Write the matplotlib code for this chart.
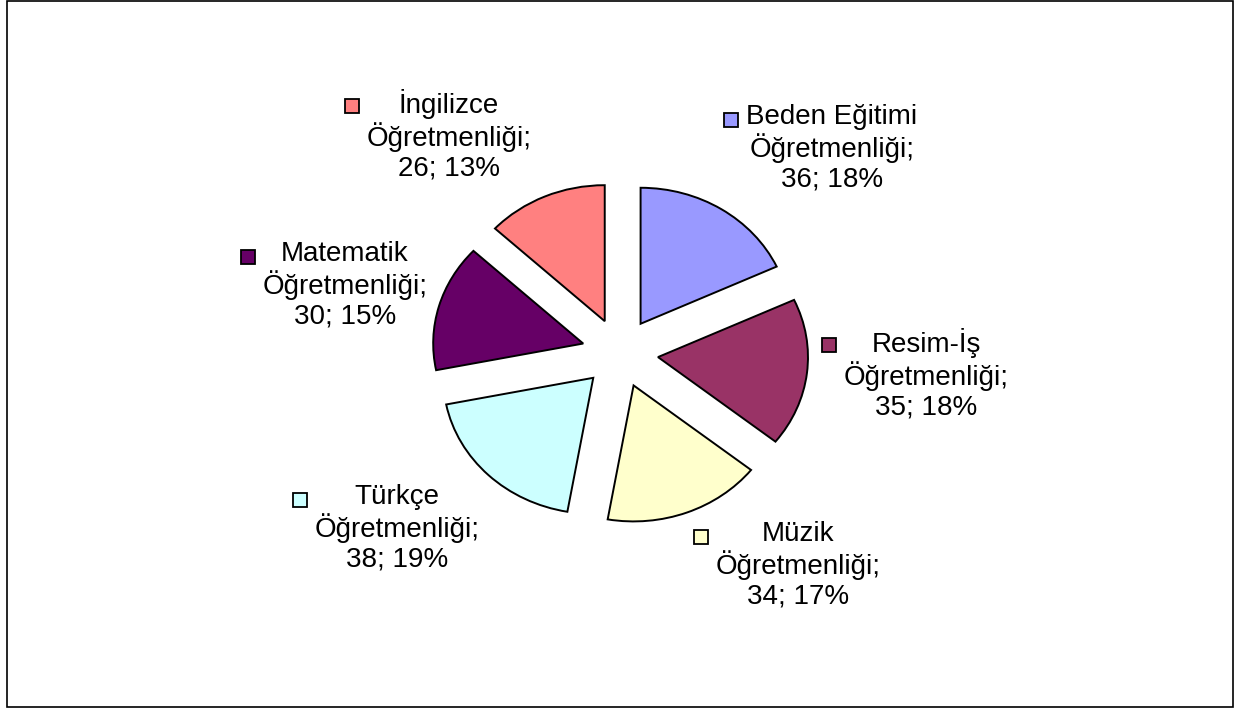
import matplotlib
matplotlib.use("Agg")
import matplotlib.pyplot as plt
from matplotlib.patches import Rectangle

# ---- data ----
categories = ["Beden Eğitimi", "Resim-İş", "Müzik", "Türkçe", "Matematik", "İngilizce"]
values = [36, 35, 34, 38, 30, 26]
colors = ["#9999FF", "#993366", "#FFFFCC", "#CCFFFF", "#660066", "#FF8080"]

# ---- layout (pixels) ----
W, H = 1243, 711
plt.rcParams['font.family'] = ['Liberation Sans', 'DejaVu Sans']
fig = plt.figure(figsize=(W / 100, H / 100), dpi=100)

cx, cy = 620, 353          # pie centre (px, from top)
rx, ry = 150, 136          # pie radii (px)
lim = 1.5
left = (cx - rx * lim) / W
width = 2 * rx * lim / W
bottom = (H - (cy + ry * lim)) / H
height = 2 * ry * lim / H
ax = fig.add_axes([left, bottom, width, height])
ax.pie(values, colors=colors, explode=[0.255] * len(values), startangle=90,
       counterclock=False, radius=1,
       wedgeprops=dict(edgecolor="black", linewidth=1.4))
ax.set_xlim(-lim, lim)
ax.set_ylim(-lim, lim)
ax.set_aspect('auto')
ax.axis('off')

# label block centres (px from top-left)
label_pos = {
    "Beden Eğitimi": (832, 148),
    "Resim-İş": (926, 374),
    "Müzik": (798, 565),
    "Türkçe": (397, 528),
    "Matematik": (345, 285),
    "İngilizce": (449, 135),
}

total = sum(values)
texts = []
for cat, v, col in zip(categories, values, colors):
    x, y = label_pos[cat]
    pct = round(100 * v / total)
    s = f"{cat}\nÖğretmenliği;\n{v}; {pct}%"
    t = fig.text(x / W, 1 - y / H, s, ha="center", va="center", fontsize=20,
                 linespacing=1.16, color="black", multialignment="center")
    texts.append((t, col))

fig.canvas.draw()
r = fig.canvas.get_renderer()
for t, col in texts:
    bb = t.get_window_extent(r)
    line_h = bb.height / 3
    ky = bb.y1 - line_h / 2 - 2
    size = 14
    kx = bb.x0 - 8 - size
    fig.patches.append(Rectangle((kx, ky - size / 2), size, size, transform=None,
                                 facecolor=col, edgecolor="black", linewidth=1.3,
                                 figure=fig))

# outer frame
fig.patches.append(Rectangle((7 / W, 1 - 707 / H), (1233 - 7) / W, 707 / H - 0.001,
                             transform=fig.transFigure, fill=False,
                             edgecolor="black", linewidth=1.2, figure=fig))

fig.savefig("out.png", dpi=100, facecolor="white")
